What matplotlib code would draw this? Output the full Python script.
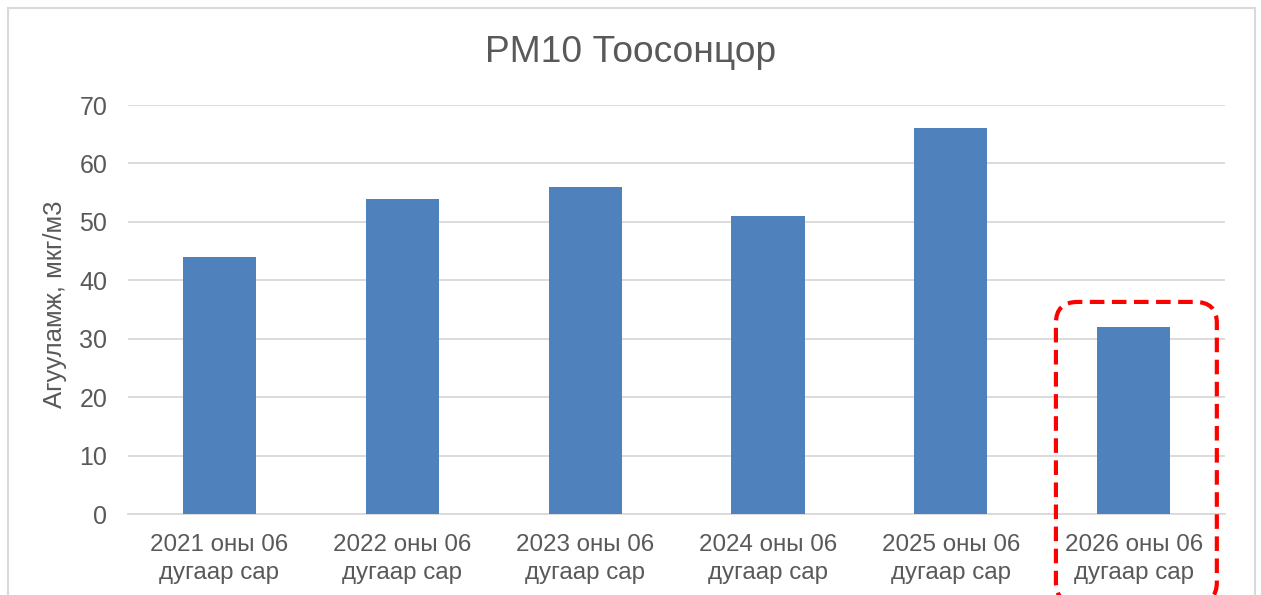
import matplotlib.pyplot as plt
from matplotlib.patches import FancyBboxPatch, Rectangle

# 데이터
categories = ['2021 оны 06\nдугаар сар', '2022 оны 06\nдугаар сар', '2023 оны 06\nдугаар сар',
              '2024 оны 06\nдугаар сар', '2025 оны 06\nдугаар сар', '2026 оны 06\nдугаар сар']
values = [44, 54, 56, 51, 66, 32]
yticks = [0, 10, 20, 30, 40, 50, 60, 70]
highlight = 5

plt.rcParams['font.family'] = ['Liberation Sans', 'DejaVu Sans']
grey = '#595959'

fig = plt.figure(figsize=(12.61, 5.95), dpi=100)
ax = fig.add_axes([0.1015, 0.1361, 0.87, 0.6874])

x = range(len(categories))
ax.bar(x, values, width=0.4, color='#4f81bd', zorder=3)

ax.set_xlim(-0.5, len(categories) - 0.5)
ax.set_ylim(0, 70)
ax.set_yticks(yticks)
ax.set_xticks(list(x))
ax.set_xticklabels(categories, fontsize=17.4, color=grey, linespacing=1.32)
ax.tick_params(axis='y', labelsize=18, colors=grey, length=0, pad=15)
ax.tick_params(axis='x', length=0, pad=14.5)
ax.grid(axis='y', color='#d9d9d9', linewidth=1.3, zorder=0)
for s in ['top', 'right', 'left']:
    ax.spines[s].set_visible(False)
ax.spines['bottom'].set_color('#d9d9d9')
ax.spines['bottom'].set_linewidth(1.3)

ax.set_ylabel('Агууламж, мкг/м3', fontsize=18.5, color=grey, va='center')
ax.yaxis.set_label_coords(-0.0665, 0.513)

# 제목은 그림 전체 기준 가운데
fig.text(0.5, 1 - 52 / 595, 'PM10 Тоосонцор', fontsize=26.7, color=grey,
         ha='center', va='center')

# 강조 박스
box = FancyBboxPatch((highlight - 0.365, -13.5), 0.76, 48.0,
                     boxstyle='round,pad=0.06,rounding_size=0.12',
                     mutation_aspect=30,
                     fill=False, edgecolor='#ff0000', linewidth=3,
                     linestyle=(0, (3.5, 1.8)), clip_on=False, zorder=5)
ax.add_patch(box)

# 바깥 테두리
fig.patches.append(Rectangle((8 / 1261, -0.05), 1247 / 1261, 1.05 - 8 / 595,
                             transform=fig.transFigure, fill=False,
                             edgecolor='#d9d9d9', linewidth=1.5))

fig.savefig('out.png', dpi=100)
